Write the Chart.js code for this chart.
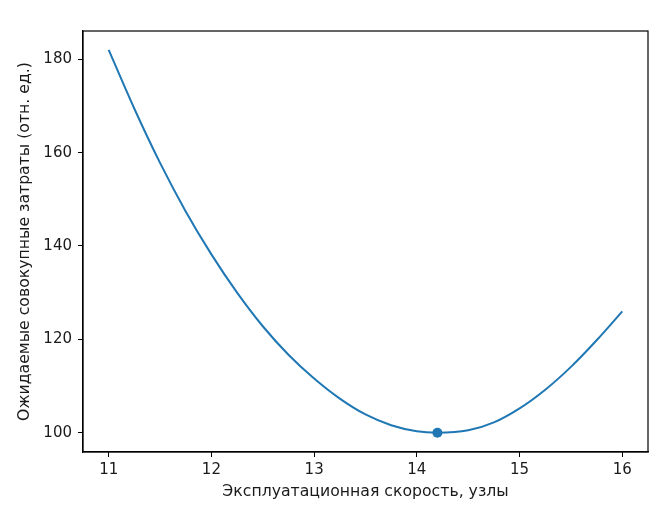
<!DOCTYPE html>
<html>
<head>
<meta charset="utf-8">
<title>Ожидаемые совокупные затраты</title>
<script src="https://cdn.jsdelivr.net/npm/chart.js@4.4.0/dist/chart.umd.min.js"></script>
<style>
  html, body { margin: 0; padding: 0; background: #fff; }
  canvas { display: block; }
</style>
</head>
<body>
<canvas id="costChart" width="667" height="519"></canvas>
<script>
// speeds (knots) and expected total cost (relative units)
const speeds = [11, 11.25, 11.5, 11.75, 12, 12.25, 12.5, 12.75, 13, 13.25, 13.5,
  13.75, 14, 14.2, 14.5, 14.75, 15, 15.25, 15.5, 15.75, 16];
const costs = [182.0, 169.4, 157.8, 147.4, 138.2, 130.0, 122.8, 116.7, 111.6, 107.3, 103.9,
  101.6, 100.3, 100.0, 100.5, 102.2, 105.2, 109.2, 114.1, 119.8, 126.0];

// optimum marker
const optimumSpeed = [14.2];
const optimumCost = [100];

const xTicks = [11, 12, 13, 14, 15, 16];
const yTicks = [100, 120, 140, 160, 180];

const xLabel = "Эксплуатационная скорость, узлы";
const yLabel = "Ожидаемые совокупные затраты (отн. ед.)";

const blue = "#1f77b4";
const ink = "#1a1a1a";
const tickFont = { family: "'DejaVu Sans', sans-serif", size: 15 };
const titleFont = { family: "'DejaVu Sans', sans-serif", size: 15.7 };

// matplotlib-like frame round the plot area
const frame = {
  id: "frame",
  afterDraw(chart) {
    const { ctx, chartArea: a } = chart;
    ctx.save();
    ctx.strokeStyle = "#000";
    ctx.lineWidth = 1.2;
    ctx.strokeRect(a.left, a.top, a.right - a.left, a.bottom - a.top);
    ctx.restore();
  },
};

const ctx = document.getElementById("costChart").getContext("2d");
new Chart(ctx, {
  type: "line",
  data: {
    datasets: [
      {
        data: speeds.map((s, i) => ({ x: s, y: costs[i] })),
        borderColor: blue,
        borderWidth: 2,
        pointRadius: 0,
        cubicInterpolationMode: "monotone",
        fill: false,
      },
      {
        data: optimumSpeed.map((s, i) => ({ x: s, y: optimumCost[i] })),
        showLine: false,
        pointRadius: 5,
        pointBackgroundColor: blue,
        pointBorderColor: blue,
        pointBorderWidth: 0,
      },
    ],
  },
  options: {
    responsive: false,
    animation: false,
    layout: { padding: { top: 31, right: 19, bottom: 0, left: 0 } },
    plugins: {
      legend: { display: false },
      tooltip: { enabled: false },
    },
    scales: {
      x: {
        type: "linear",
        min: 10.75,
        max: 16.25,
        afterBuildTicks: (scale) => { scale.ticks = xTicks.map((v) => ({ value: v })); },
        afterFit: (scale) => { scale.height = 67; },
        grid: { display: true, drawOnChartArea: false, drawTicks: true, tickLength: 5, color: "#000" },
        border: { display: true, color: "#000", width: 1.2 },
        ticks: { color: ink, font: tickFont, padding: 4, maxRotation: 0 },
        title: { display: true, text: xLabel, color: ink, font: titleFont, padding: { top: 0, bottom: 18 } },
      },
      y: {
        type: "linear",
        min: 95.86,
        max: 186.06,
        afterBuildTicks: (scale) => { scale.ticks = yTicks.map((v) => ({ value: v })); },
        afterFit: (scale) => { scale.width = 83; },
        grid: { display: true, drawOnChartArea: false, drawTicks: true, tickLength: 5, color: "#000" },
        border: { display: true, color: "#000", width: 1.2 },
        ticks: { color: ink, font: tickFont, padding: 6 },
        title: { display: true, text: yLabel, color: ink, font: titleFont, padding: { top: 16, bottom: 0 } },
      },
    },
  },
  plugins: [frame],
});
</script>
</body>
</html>
